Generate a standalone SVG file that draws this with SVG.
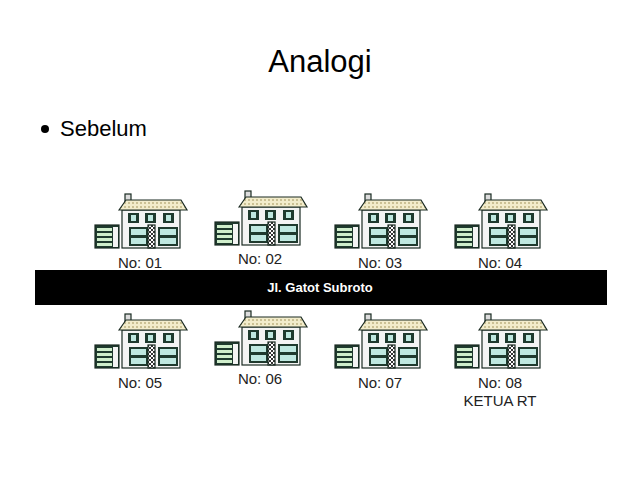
<svg xmlns="http://www.w3.org/2000/svg" width="638" height="479" viewBox="0 0 638 479">
<style>
.t{font-family:"Liberation Sans",Arial,sans-serif;fill:#000}
.lbl{font-size:15px;fill:#222;text-anchor:middle}
.o{stroke:#1a2a22;stroke-width:1.2}
</style>
<defs>
<pattern id="tile" width="4" height="4" patternUnits="userSpaceOnUse"><rect width="4" height="4" fill="#f2eccb"/><circle cx="2" cy="2" r="0.9" fill="#b8ad7a"/></pattern>
<pattern id="chk" width="4" height="4" patternUnits="userSpaceOnUse"><rect width="4" height="4" fill="#fff"/><rect width="2" height="2" fill="#333"/><rect x="2" y="2" width="2" height="2" fill="#333"/></pattern>
<g id="house">
<rect x="30" y="1" width="6" height="9" fill="#ddd" class="o"/>
<rect x="27" y="17" width="58" height="38" fill="#f4f4f4" class="o"/>
<polygon points="24,17 31,7 86,7 92,17" fill="url(#tile)" class="o"/>
<rect x="33" y="20" width="11" height="10" fill="#1f3a2e"/><rect x="36" y="22" width="5" height="6" fill="#bfe8e0"/>
<rect x="50" y="20" width="11" height="10" fill="#1f3a2e"/><rect x="53" y="22" width="5" height="6" fill="#bfe8e0"/>
<rect x="68" y="20" width="11" height="10" fill="#1f3a2e"/><rect x="71" y="22" width="5" height="6" fill="#bfe8e0"/>
<rect x="34" y="34" width="19" height="19" fill="#1f3a2e"/><rect x="36" y="36" width="15" height="6" fill="#bfe8e0"/><rect x="36" y="45" width="15" height="6" fill="#bfe8e0"/>
<rect x="53" y="32" width="7" height="23" fill="url(#chk)" class="o"/>
<rect x="63" y="34" width="20" height="19" fill="#1f3a2e"/><rect x="65" y="36" width="16" height="6" fill="#bfe8e0"/><rect x="65" y="45" width="16" height="6" fill="#bfe8e0"/>
<rect x="0" y="32" width="24" height="23" fill="#1f3a2e" class="o"/>
<rect x="2" y="35" width="15" height="3" fill="#cfeecb"/><rect x="2" y="40" width="15" height="3" fill="#cfeecb"/><rect x="2" y="45" width="15" height="3" fill="#cfeecb"/><rect x="2" y="50" width="15" height="3" fill="#cfeecb"/>
<rect x="18" y="34" width="5" height="20" fill="#f4f4f4"/>
</g>
</defs>
<rect width="638" height="479" fill="#fff"/>
<text class="t" x="320" y="72" font-size="31" text-anchor="middle">Analogi</text>
<circle cx="45" cy="129" r="4" fill="#000"/>
<text class="t" x="60" y="136" font-size="22">Sebelum</text>
<rect x="35" y="270" width="572" height="35" fill="#000"/>
<text class="t" x="320" y="292" font-size="13" font-weight="bold" style="fill:#fff" text-anchor="middle">Jl. Gatot Subroto</text>
<g id="h01"><use href="#house" x="95" y="193"/><text class="t lbl" x="140" y="268">No: 01</text></g>
<g id="h02"><use href="#house" x="215" y="190"/><text class="t lbl" x="260" y="264">No: 02</text></g>
<g id="h03"><use href="#house" x="335" y="193"/><text class="t lbl" x="380" y="268">No: 03</text></g>
<g id="h04"><use href="#house" x="455" y="193"/><text class="t lbl" x="500" y="268">No: 04</text></g>
<g id="h05"><use href="#house" x="95" y="313"/><text class="t lbl" x="140" y="388">No: 05</text></g>
<g id="h06"><use href="#house" x="215" y="310"/><text class="t lbl" x="260" y="384">No: 06</text></g>
<g id="h07"><use href="#house" x="335" y="313"/><text class="t lbl" x="380" y="388">No: 07</text></g>
<g id="h08"><use href="#house" x="455" y="313"/><text class="t lbl" x="500" y="388">No: 08</text><text class="t lbl" x="500" y="406">KETUA RT</text></g>
<g id="connectors"/>
</svg>
